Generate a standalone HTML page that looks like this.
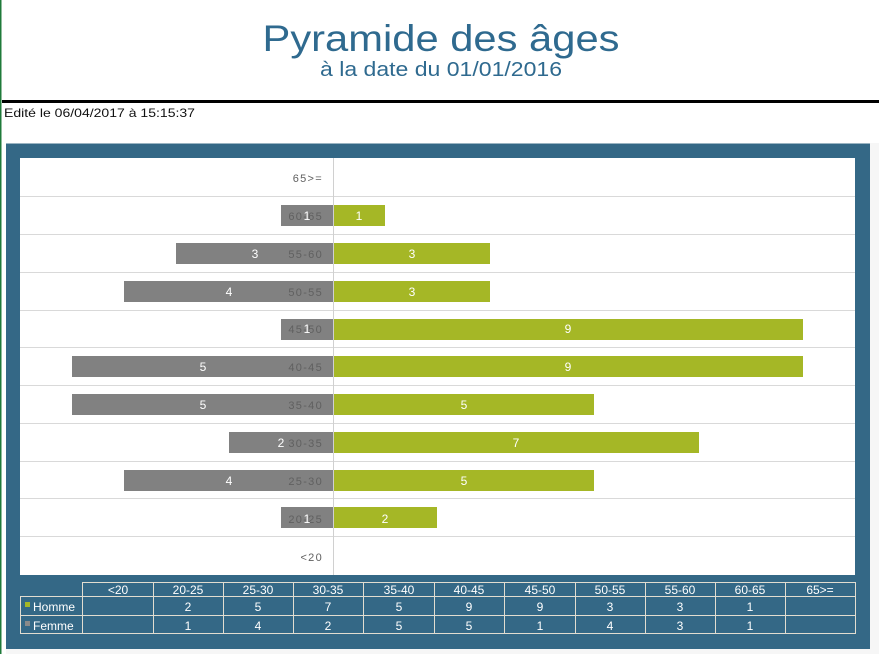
<!DOCTYPE html>
<html>
<head>
<meta charset="utf-8">
<style>
html,body{margin:0;padding:0;background:#fff;}
svg{display:block;}
text{font-family:"Liberation Sans",sans-serif;}
</style>
</head>
<body>
<svg width="879" height="654" viewBox="0 0 879 654" xmlns="http://www.w3.org/2000/svg">
  <rect x="0" y="0" width="879" height="654" fill="#ffffff"/>
  <rect x="0" y="0" width="1.5" height="654" fill="#1f7a3a"/>

  <!-- Title -->
  <text x="441" y="51" text-anchor="middle" font-size="37" fill="#2f6a8f" textLength="357" lengthAdjust="spacingAndGlyphs">Pyramide des âges</text>
  <text x="441" y="76" text-anchor="middle" font-size="20" fill="#2f6a8f" textLength="242" lengthAdjust="spacingAndGlyphs">à la date du 01/01/2016</text>

  <rect x="2" y="100" width="877" height="3" fill="#000"/>
  <text x="4" y="117" font-size="12" fill="#111" textLength="191" lengthAdjust="spacingAndGlyphs">Edité le 06/04/2017 à 15:15:37</text>

  <!-- Panel -->
  <rect x="870" y="143" width="9" height="511" fill="#f6f6f6"/>
  <rect x="6" y="649" width="873" height="5" fill="#f6f6f6"/>
  <rect x="6" y="143.5" width="864" height="505.5" fill="#346886"/>
  <rect x="20" y="158" width="835" height="417" fill="#ffffff"/>

  <!-- gridlines -->
  <g stroke="#d9d9d9" stroke-width="1">
    <line x1="20" y1="196.5" x2="855" y2="196.5"/>
    <line x1="20" y1="234.5" x2="855" y2="234.5"/>
    <line x1="20" y1="272.5" x2="855" y2="272.5"/>
    <line x1="20" y1="310.5" x2="855" y2="310.5"/>
    <line x1="20" y1="347.5" x2="855" y2="347.5"/>
    <line x1="20" y1="385.5" x2="855" y2="385.5"/>
    <line x1="20" y1="423.5" x2="855" y2="423.5"/>
    <line x1="20" y1="461.5" x2="855" y2="461.5"/>
    <line x1="20" y1="498.5" x2="855" y2="498.5"/>
    <line x1="20" y1="536.5" x2="855" y2="536.5"/>
  </g>

  <!-- bars: row tops 158 + i*37.9 ; bar top = rowtop+9, h=21 ; unit 52.2 -->
  <g fill="#818181">
    <rect x="281" y="205" width="52" height="21"/>
    <rect x="176" y="243" width="157" height="21"/>
    <rect x="124" y="281" width="209" height="21"/>
    <rect x="281" y="319" width="52" height="21"/>
    <rect x="72" y="356" width="261" height="21"/>
    <rect x="72" y="394" width="261" height="21"/>
    <rect x="229" y="432" width="104" height="21"/>
    <rect x="124" y="470" width="209" height="21"/>
    <rect x="281" y="507" width="52" height="21"/>
  </g>
  <g fill="#a5b726">
    <rect x="334" y="205" width="51" height="21"/>
    <rect x="334" y="243" width="156" height="21"/>
    <rect x="334" y="281" width="156" height="21"/>
    <rect x="334" y="319" width="469" height="21"/>
    <rect x="334" y="356" width="469" height="21"/>
    <rect x="334" y="394" width="260" height="21"/>
    <rect x="334" y="432" width="365" height="21"/>
    <rect x="334" y="470" width="260" height="21"/>
    <rect x="334" y="507" width="103" height="21"/>
  </g>

  <line x1="333.5" y1="158" x2="333.5" y2="575" stroke="#d0d0d0" stroke-width="1"/>

  <!-- category labels -->
  <g font-size="11" fill="#606060" text-anchor="end" letter-spacing="1.3">
    <text x="323" y="182">65&gt;=</text>
    <text x="323" y="220">60-65</text>
    <text x="323" y="258">55-60</text>
    <text x="323" y="296">50-55</text>
    <text x="323" y="333">45-50</text>
    <text x="323" y="371">40-45</text>
    <text x="323" y="409">35-40</text>
    <text x="323" y="447">30-35</text>
    <text x="323" y="485">25-30</text>
    <text x="323" y="523">20-25</text>
    <text x="323" y="561">&lt;20</text>
  </g>

  <!-- value labels -->
  <g font-size="12" fill="#ffffff" text-anchor="middle">
    <text x="307" y="220">1</text>
    <text x="255" y="258">3</text>
    <text x="229" y="296">4</text>
    <text x="307" y="333">1</text>
    <text x="203" y="371">5</text>
    <text x="203" y="409">5</text>
    <text x="281" y="447">2</text>
    <text x="229" y="485">4</text>
    <text x="307" y="523">1</text>

    <text x="359" y="220">1</text>
    <text x="412" y="258">3</text>
    <text x="412" y="296">3</text>
    <text x="568" y="333">9</text>
    <text x="568" y="371">9</text>
    <text x="464" y="409">5</text>
    <text x="516" y="447">7</text>
    <text x="464" y="485">5</text>
    <text x="385" y="523">2</text>
  </g>

  <!-- data table -->
  <g stroke="#e2ddd0" stroke-width="1" fill="none">
    <rect x="82.5" y="582.5" width="773" height="51"/>
    <rect x="20.5" y="596.5" width="62" height="37"/>
    <line x1="20.5" y1="615.5" x2="855.5" y2="615.5"/>
    <line x1="82.5" y1="596.5" x2="855.5" y2="596.5"/>
    <line x1="153.5" y1="582.5" x2="153.5" y2="633.5"/>
    <line x1="223.5" y1="582.5" x2="223.5" y2="633.5"/>
    <line x1="293.5" y1="582.5" x2="293.5" y2="633.5"/>
    <line x1="363.5" y1="582.5" x2="363.5" y2="633.5"/>
    <line x1="434.5" y1="582.5" x2="434.5" y2="633.5"/>
    <line x1="504.5" y1="582.5" x2="504.5" y2="633.5"/>
    <line x1="575.5" y1="582.5" x2="575.5" y2="633.5"/>
    <line x1="645.5" y1="582.5" x2="645.5" y2="633.5"/>
    <line x1="715.5" y1="582.5" x2="715.5" y2="633.5"/>
    <line x1="785.5" y1="582.5" x2="785.5" y2="633.5"/>
  </g>
  <rect x="25" y="602" width="5" height="5" fill="#a5b726"/>
  <rect x="25" y="621" width="5" height="5" fill="#8a8a8a"/>
  <g font-size="12" fill="#ffffff">
    <text x="33" y="611">Homme</text>
    <text x="33" y="630">Femme</text>
  </g>
  <g font-size="12" fill="#ffffff" text-anchor="middle">
    <text x="118" y="594">&lt;20</text>
    <text x="188" y="594">20-25</text>
    <text x="258" y="594">25-30</text>
    <text x="328" y="594">30-35</text>
    <text x="399" y="594">35-40</text>
    <text x="469" y="594">40-45</text>
    <text x="540" y="594">45-50</text>
    <text x="610" y="594">50-55</text>
    <text x="680" y="594">55-60</text>
    <text x="750" y="594">60-65</text>
    <text x="820" y="594">65&gt;=</text>

    <text x="188" y="611">2</text>
    <text x="258" y="611">5</text>
    <text x="328" y="611">7</text>
    <text x="399" y="611">5</text>
    <text x="469" y="611">9</text>
    <text x="540" y="611">9</text>
    <text x="610" y="611">3</text>
    <text x="680" y="611">3</text>
    <text x="750" y="611">1</text>

    <text x="188" y="630">1</text>
    <text x="258" y="630">4</text>
    <text x="328" y="630">2</text>
    <text x="399" y="630">5</text>
    <text x="469" y="630">5</text>
    <text x="540" y="630">1</text>
    <text x="610" y="630">4</text>
    <text x="680" y="630">3</text>
    <text x="750" y="630">1</text>
  </g>
</svg>
</body>
</html>
